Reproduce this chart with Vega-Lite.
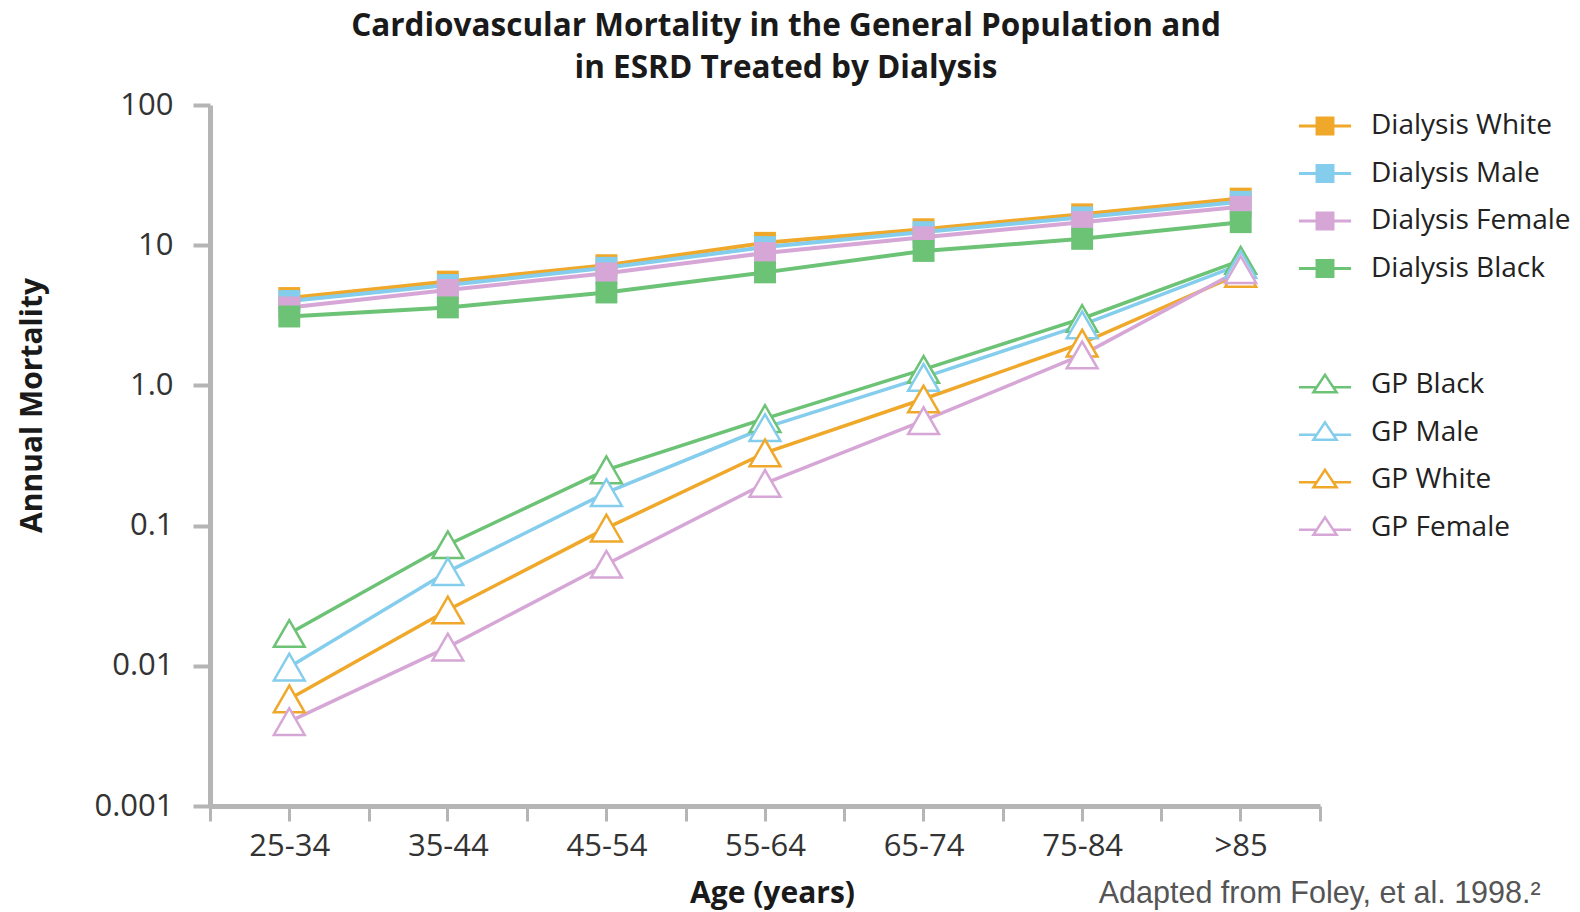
{
  "$schema": "https://vega.github.io/schema/vega-lite/v6.json",
  "width": 1110,
  "height": 701,
  "autosize": {"type": "none"},
  "padding": {"left": 210, "top": 105, "right": 260, "bottom": 106},
  "background": "white",
  "title": {
    "text": ["Cardiovascular Mortality in the General Population and", "in ESRD Treated by Dialysis"],
    "font": "Open Sans",
    "fontWeight": "bold",
    "fontSize": 31.5,
    "lineHeight": 42,
    "color": "#1a1a1a",
    "anchor": "middle",
    "frame": "group",
    "dx": 21,
    "offset": 5
  },
  "config": {"view": {"stroke": null}, "axis": {"grid": false}},
  "data": {
    "values": [
      {"group": "Dialysis", "series": "Dialysis White", "age": "25-34", "value": 4.2},
      {"group": "Dialysis", "series": "Dialysis White", "age": "35-44", "value": 5.5},
      {"group": "Dialysis", "series": "Dialysis White", "age": "45-54", "value": 7.2},
      {"group": "Dialysis", "series": "Dialysis White", "age": "55-64", "value": 10.4},
      {"group": "Dialysis", "series": "Dialysis White", "age": "65-74", "value": 13.0},
      {"group": "Dialysis", "series": "Dialysis White", "age": "75-84", "value": 16.6},
      {"group": "Dialysis", "series": "Dialysis White", "age": ">85", "value": 21.5},
      {"group": "Dialysis", "series": "Dialysis Male", "age": "25-34", "value": 4.0},
      {"group": "Dialysis", "series": "Dialysis Male", "age": "35-44", "value": 5.2},
      {"group": "Dialysis", "series": "Dialysis Male", "age": "45-54", "value": 6.9},
      {"group": "Dialysis", "series": "Dialysis Male", "age": "55-64", "value": 9.7},
      {"group": "Dialysis", "series": "Dialysis Male", "age": "65-74", "value": 12.4},
      {"group": "Dialysis", "series": "Dialysis Male", "age": "75-84", "value": 15.8},
      {"group": "Dialysis", "series": "Dialysis Male", "age": ">85", "value": 20.4},
      {"group": "Dialysis", "series": "Dialysis Female", "age": "25-34", "value": 3.6},
      {"group": "Dialysis", "series": "Dialysis Female", "age": "35-44", "value": 4.8},
      {"group": "Dialysis", "series": "Dialysis Female", "age": "45-54", "value": 6.3},
      {"group": "Dialysis", "series": "Dialysis Female", "age": "55-64", "value": 8.8},
      {"group": "Dialysis", "series": "Dialysis Female", "age": "65-74", "value": 11.4},
      {"group": "Dialysis", "series": "Dialysis Female", "age": "75-84", "value": 14.6},
      {"group": "Dialysis", "series": "Dialysis Female", "age": ">85", "value": 18.8},
      {"group": "Dialysis", "series": "Dialysis Black", "age": "25-34", "value": 3.1},
      {"group": "Dialysis", "series": "Dialysis Black", "age": "35-44", "value": 3.6},
      {"group": "Dialysis", "series": "Dialysis Black", "age": "45-54", "value": 4.6},
      {"group": "Dialysis", "series": "Dialysis Black", "age": "55-64", "value": 6.4},
      {"group": "Dialysis", "series": "Dialysis Black", "age": "65-74", "value": 9.1},
      {"group": "Dialysis", "series": "Dialysis Black", "age": "75-84", "value": 11.1},
      {"group": "Dialysis", "series": "Dialysis Black", "age": ">85", "value": 14.6},
      {"group": "GP", "series": "GP Black", "age": "25-34", "value": 0.017},
      {"group": "GP", "series": "GP Black", "age": "35-44", "value": 0.073},
      {"group": "GP", "series": "GP Black", "age": "45-54", "value": 0.25},
      {"group": "GP", "series": "GP Black", "age": "55-64", "value": 0.58},
      {"group": "GP", "series": "GP Black", "age": "65-74", "value": 1.3},
      {"group": "GP", "series": "GP Black", "age": "75-84", "value": 3.0},
      {"group": "GP", "series": "GP Black", "age": ">85", "value": 7.8},
      {"group": "GP", "series": "GP Male", "age": "25-34", "value": 0.0098},
      {"group": "GP", "series": "GP Male", "age": "35-44", "value": 0.047},
      {"group": "GP", "series": "GP Male", "age": "45-54", "value": 0.172},
      {"group": "GP", "series": "GP Male", "age": "55-64", "value": 0.5},
      {"group": "GP", "series": "GP Male", "age": "65-74", "value": 1.14},
      {"group": "GP", "series": "GP Male", "age": "75-84", "value": 2.7},
      {"group": "GP", "series": "GP Male", "age": ">85", "value": 7.3},
      {"group": "GP", "series": "GP White", "age": "25-34", "value": 0.0058},
      {"group": "GP", "series": "GP White", "age": "35-44", "value": 0.025},
      {"group": "GP", "series": "GP White", "age": "45-54", "value": 0.096},
      {"group": "GP", "series": "GP White", "age": "55-64", "value": 0.33},
      {"group": "GP", "series": "GP White", "age": "65-74", "value": 0.8},
      {"group": "GP", "series": "GP White", "age": "75-84", "value": 2.0},
      {"group": "GP", "series": "GP White", "age": ">85", "value": 6.3},
      {"group": "GP", "series": "GP Female", "age": "25-34", "value": 0.004},
      {"group": "GP", "series": "GP Female", "age": "35-44", "value": 0.0136},
      {"group": "GP", "series": "GP Female", "age": "45-54", "value": 0.053},
      {"group": "GP", "series": "GP Female", "age": "55-64", "value": 0.2},
      {"group": "GP", "series": "GP Female", "age": "65-74", "value": 0.56},
      {"group": "GP", "series": "GP Female", "age": "75-84", "value": 1.65},
      {"group": "GP", "series": "GP Female", "age": ">85", "value": 6.7}
    ]
  },
  "layer": [
    {
      "transform": [{"filter": "datum.group == 'Dialysis'"}],
      "encoding": {
        "x": {
          "field": "age",
          "type": "ordinal",
          "scale": {"type": "band", "domain": ["25-34", "35-44", "45-54", "55-64", "65-74", "75-84", ">85"], "paddingInner": 0, "paddingOuter": 0},
          "axis": {
            "orient": "bottom",
            "tickBand": "extent",
            "title": "Age (years)",
            "titleFont": "Open Sans",
            "titleFontWeight": "bold",
            "titleFontSize": 30,
            "titleColor": "#1a1a1a",
            "titleX": 562,
            "titleY": 87,
            "titleAlign": "center",
            "titleBaseline": "middle",
            "labelFont": "Open Sans",
            "labelFontSize": 31,
            "labelColor": "#333333",
            "labelAngle": 0,
            "labelPadding": 10,
            "tickSize": 15,
            "tickWidth": 3,
            "tickColor": "#b5b5b5",
            "domainColor": "#b5b5b5",
            "domainWidth": 5
          }
        },
        "y": {
          "field": "value",
          "type": "quantitative",
          "scale": {"type": "log", "domain": [0.001, 100], "nice": false},
          "axis": {
            "orient": "left",
            "values": [0.001, 0.01, 0.1, 1, 10, 100],
            "labelExpr": "datum.value >= 10 ? format(datum.value, 'd') : datum.value == 1 ? '1.0' : format(datum.value, '~g')",
            "title": "Annual Mortality",
            "titleFont": "Open Sans",
            "titleFontWeight": "bold",
            "titleFontSize": 30,
            "titleColor": "#1a1a1a",
            "titleX": -178,
            "titleY": 300,
            "titleAngle": -90,
            "titleAlign": "center",
            "titleBaseline": "middle",
            "labelFont": "Open Sans",
            "labelFontSize": 31,
            "labelColor": "#333333",
            "labelPadding": 20,
            "tickSize": 17,
            "tickWidth": 4,
            "tickColor": "#b5b5b5",
            "domainColor": "#b5b5b5",
            "domainWidth": 5
          }
        },
        "color": {
          "field": "series",
          "type": "nominal",
          "scale": {
            "domain": ["Dialysis White", "Dialysis Male", "Dialysis Female", "Dialysis Black"],
            "range": ["#F0A82A", "#84CDEC", "#D6A7D6", "#6CC275"]
          },
          "legend": {
            "orient": "none",
            "legendX": 1099,
            "legendY": 5,
            "title": null,
            "padding": 0,
            "symbolType": "M-1.8,0H-0.55M0.55,0H1.8M-0.55,-0.55H0.55V0.55H-0.55Z",
            "symbolSize": 841,
            "symbolStrokeWidth": 3,
            "labelFont": "Open Sans",
            "labelFontSize": 28,
            "labelColor": "#222222",
            "labelOffset": 30,
            "labelLimit": 400,
            "rowPadding": 17.5
          }
        }
      },
      "layer": [
        {"mark": {"type": "line", "strokeWidth": 4}},
        {"mark": {"type": "point", "shape": "square", "filled": true, "size": 480, "opacity": 1}}
      ]
    },
    {
      "transform": [{"filter": "datum.group == 'GP'"}],
      "encoding": {
        "x": {
          "field": "age",
          "type": "ordinal",
          "scale": {"type": "band", "domain": ["25-34", "35-44", "45-54", "55-64", "65-74", "75-84", ">85"], "paddingInner": 0, "paddingOuter": 0},
          "axis": {
            "orient": "bottom",
            "tickBand": "center",
            "labels": false,
            "domain": false,
            "title": null,
            "tickSize": 15,
            "tickWidth": 3,
            "tickColor": "#b5b5b5"
          }
        },
        "y": {
          "field": "value",
          "type": "quantitative",
          "scale": {"type": "log", "domain": [0.001, 100], "nice": false},
          "axis": {
            "orient": "left",
            "values": [0.001, 0.01, 0.1, 1, 10, 100],
            "labelExpr": "datum.value >= 10 ? format(datum.value, 'd') : datum.value == 1 ? '1.0' : format(datum.value, '~g')",
            "title": "Annual Mortality",
            "titleFont": "Open Sans",
            "titleFontWeight": "bold",
            "titleFontSize": 30,
            "titleColor": "#1a1a1a",
            "titleX": -178,
            "titleY": 300,
            "titleAngle": -90,
            "titleAlign": "center",
            "titleBaseline": "middle",
            "labelFont": "Open Sans",
            "labelFontSize": 31,
            "labelColor": "#333333",
            "labelPadding": 20,
            "tickSize": 17,
            "tickWidth": 4,
            "tickColor": "#b5b5b5",
            "domainColor": "#b5b5b5",
            "domainWidth": 5
          }
        },
        "color": {
          "field": "series",
          "type": "nominal",
          "scale": {
            "domain": ["GP Black", "GP Male", "GP White", "GP Female"],
            "range": ["#6CC275", "#84CDEC", "#F0A82A", "#D6A7D6"]
          },
          "legend": {
            "orient": "none",
            "legendX": 1099,
            "legendY": 264,
            "title": null,
            "padding": 0,
            "symbolType": "M-1.8,0.15H-0.57M0.57,0.15H1.8M0,-0.7L0.8,0.5H-0.8Z",
            "symbolSize": 841,
            "symbolStrokeWidth": 2.5,
            "symbolFillColor": "white",
            "labelFont": "Open Sans",
            "labelFontSize": 28,
            "labelColor": "#222222",
            "labelOffset": 30,
            "labelLimit": 400,
            "rowPadding": 17.5
          }
        }
      },
      "layer": [
        {"mark": {"type": "line", "strokeWidth": 3.5}},
        {"mark": {"type": "point", "shape": "triangle-up", "filled": false, "fill": "white", "size": 950, "opacity": 1, "strokeWidth": 2.5}}
      ]
    },
    {
      "data": {"values": [{"note": "Adapted from Foley, et al. 1998.²"}]},
      "mark": {"type": "text", "align": "left", "baseline": "alphabetic", "dx": -142, "dy": 97, "font": "Liberation Sans", "fontSize": 30.5, "color": "#555555"},
      "encoding": {
        "x": {
          "datum": ">85",
          "type": "ordinal",
          "scale": {"type": "band", "domain": ["25-34", "35-44", "45-54", "55-64", "65-74", "75-84", ">85"], "paddingInner": 0, "paddingOuter": 0},
          "axis": {"orient": "bottom", "labels": false, "ticks": false, "domain": false, "title": null}
        },
        "y": {
          "datum": 0.001,
          "type": "quantitative",
          "scale": {"type": "log", "domain": [0.001, 100], "nice": false}
        },
        "text": {"field": "note"}
      }
    }
  ],
  "resolve": {"scale": {"color": "independent"}, "axis": {"x": "independent"}}
}
